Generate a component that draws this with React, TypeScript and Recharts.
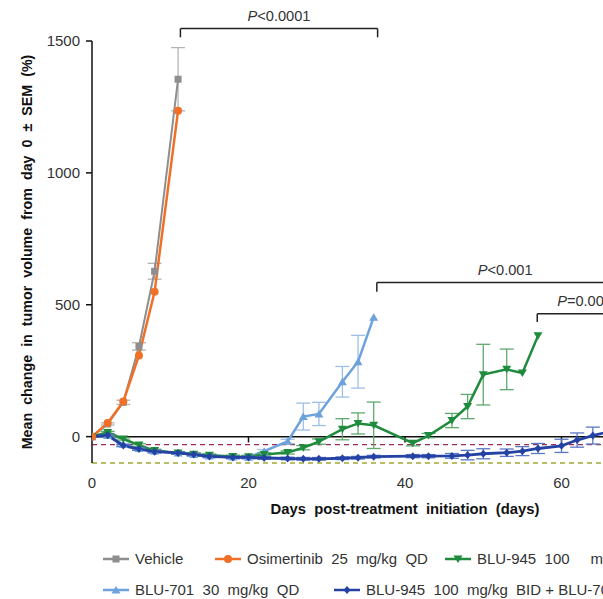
import React from 'react';
import { ComposedChart, Line, XAxis, YAxis, ReferenceLine, ErrorBar, Label } from 'recharts';

// days, mean % change and SEM
const vehicleDays = [0, 2, 4, 6, 8, 11];
const vehicleMean = [0, 48, 130, 342, 627, 1355];
const vehicleSem = [0, 4, 8, 14, 30, 120];

const osiDays = [0, 2, 4, 6, 8, 11];
const osiMean = [0, 52, 133, 308, 549, 1236];
const osiSem = [0, 0, 0, 0, 0, 0];

const blu945Days = [0, 2, 4, 6, 8, 11, 13, 15, 18, 20, 22, 25, 27, 29, 32, 34, 36, 41, 43, 46, 48, 50, 53, 55, 57];
const blu945Mean = [0, 16, -9, -32, -53, -62, -67, -71, -75, -76, -68, -60, -42, -19, 28, 50, 43, -25, 4, 61, 114, 235, 255, 241, 382];
const blu945Sem = [0, 4, 4, 5, 5, 5, 5, 5, 5, 5, 6, 6, 8, 10, 40, 40, 88, 10, 8, 27, 46, 115, 77, 0, 0];

const blu701Days = [0, 2, 4, 6, 8, 11, 13, 15, 18, 20, 22, 25, 27, 29, 32, 34, 36];
const blu701Mean = [0, 4, -30, -45, -55, -62, -68, -73, -77, -78, -55, -18, 76, 86, 208, 284, 453];
const blu701Sem = [0, 3, 4, 5, 5, 5, 5, 5, 5, 5, 6, 8, 51, 44, 58, 100, 0];

const comboDays = [0, 2, 4, 6, 8, 11, 13, 15, 18, 20, 22, 25, 27, 29, 32, 34, 36, 41, 43, 46, 48, 50, 53, 55, 57, 60, 62, 64, 67];
const comboMean = [0, 5, -34, -47, -57, -62, -68, -75, -79, -79, -81, -83, -84, -84, -82, -80, -76, -74, -74, -73, -70, -65, -61, -55, -45, -35, -13, 4, 25];
const comboSem = [0, 3, 4, 5, 5, 5, 5, 5, 5, 5, 5, 5, 5, 5, 5, 5, 5, 6, 6, 9, 18, 19, 14, 17, 19, 25, 27, 32, 35];

const seriesNames = [
  'Vehicle',
  'Osimertinib  25  mg/kg  QD',
  'BLU-945  100     mg/kg  BID',
  'BLU-701  30  mg/kg  QD',
  'BLU-945  100  mg/kg  BID + BLU-701  30  mg/kg  QD',
];

const xTicks = [0, 20, 40, 60, 80];
const yTicks = [0, 500, 1000, 1500];
const thresholds = [-30, -100];

// significance brackets (data coordinates)
const brackets = [
  { from: 11.3, to: 36.5, y: 1547, drop: 1514, text: '<0.0001' },
  { from: 36.4, to: 69.2, y: 584, drop: 549, text: '<0.001' },
  { from: 56.9, to: 69, y: 466, drop: 435, text: '=0.003' },
];

const toRows = (days: number[], mean: number[], sem: number[]) =>
  days.map((d, i) => ({ day: d, value: mean[i], sem: sem[i] }));

type Shape = 'square' | 'circle' | 'triDown' | 'triUp' | 'diamond';

const series: { key: string; name: string; color: string; err: string; shape: Shape; width: number; data: any[] }[] = [
  { key: 'vehicle', name: seriesNames[0], color: '#8e8e8e', err: '#b4b4b4', shape: 'square', width: 2, data: toRows(vehicleDays, vehicleMean, vehicleSem) },
  { key: 'blu701', name: seriesNames[3], color: '#6ea2dc', err: '#9dbfe6', shape: 'triUp', width: 2.5, data: toRows(blu701Days, blu701Mean, blu701Sem) },
  { key: 'blu945', name: seriesNames[2], color: '#1f8b3d', err: '#5ea96e', shape: 'triDown', width: 2.5, data: toRows(blu945Days, blu945Mean, blu945Sem) },
  { key: 'combo', name: seriesNames[4], color: '#2442a3', err: '#5a77c4', shape: 'diamond', width: 2.8, data: toRows(comboDays, comboMean, comboSem) },
  { key: 'osi', name: seriesNames[1], color: '#f07028', err: '#f5a070', shape: 'circle', width: 2.5, data: toRows(osiDays, osiMean, osiSem) },
];

const Marker = ({ cx, cy, shape, fill }: { cx: number; cy: number; shape: Shape; fill: string }) => {
  if (cx == null || cy == null) return null;
  switch (shape) {
    case 'square':
      return <rect x={cx - 3.5} y={cy - 3.5} width={7} height={7} fill={fill} />;
    case 'circle':
      return <circle cx={cx} cy={cy} r={4} fill={fill} />;
    case 'triDown':
      return <path d={`M${cx - 4.5},${cy - 3.5}L${cx + 4.5},${cy - 3.5}L${cx},${cy + 4}Z`} fill={fill} />;
    case 'triUp':
      return <path d={`M${cx - 4.5},${cy + 3.5}L${cx + 4.5},${cy + 3.5}L${cx},${cy - 4}Z`} fill={fill} />;
    default:
      return <path d={`M${cx},${cy - 4}L${cx + 3.5},${cy}L${cx},${cy + 4}L${cx - 3.5},${cy}Z`} fill={fill} />;
  }
};

const font = '"Liberation Sans", Arial, sans-serif';

const YLabel = (props: any) => {
  const vb = props.viewBox || {};
  const x = vb.x + 27;
  const y = vb.y + vb.height / 2;
  return (
    <text x={x} y={y} transform={`rotate(-90 ${x} ${y})`} textAnchor="middle" dominantBaseline="central"
      fontSize={14.3} fontWeight="bold" fill="#111" style={{ whiteSpace: 'pre' }}>
      {'Mean  change  in  tumor  volume  from  day  0  ±  SEM  (%)'}
    </text>
  );
};

const XLabel = (props: any) => {
  const vb = props.viewBox || {};
  return (
    <text x={vb.x + vb.width / 2} y={vb.y + 46} textAnchor="middle" dominantBaseline="central"
      fontSize={14.8} fontWeight="bold" fill="#111" style={{ whiteSpace: 'pre' }}>
      {'Days  post-treatment  initiation  (days)'}
    </text>
  );
};

const PLabel = ({ viewBox, text }: any) => {
  if (!viewBox) return null;
  return (
    <text x={viewBox.x + viewBox.width / 2} y={viewBox.y - 8} textAnchor="middle" fontSize={14.6} fill="#333">
      <tspan fontStyle="italic">P</tspan>
      {text}
    </text>
  );
};

const LegendIcon = ({ color, shape }: { color: string; shape: Shape }) => (
  <svg width={30} height={14} style={{ display: 'inline-block', verticalAlign: 'middle', marginRight: 4 }}>
    <line x1={2} y1={7} x2={28} y2={7} stroke={color} strokeWidth={2.5} />
    <Marker cx={15} cy={7} shape={shape} fill={color} />
  </svg>
);

const legendLayout = [
  { key: 'vehicle', left: 101, top: 550 },
  { key: 'osi', left: 213, top: 550 },
  { key: 'blu945', left: 443, top: 550 },
  { key: 'blu701', left: 101, top: 581 },
  { key: 'combo', left: 332, top: 581 },
];

export default function App() {
  return (
    <div style={{ position: 'fixed', left: 0, top: 0, width: 603, height: 599, overflow: 'hidden', background: '#fff', fontFamily: font }}>
      <ComposedChart width={730} height={523} margin={{ top: 41, right: 12, bottom: 0, left: 0 }} style={{ fontFamily: font }}>
        <XAxis type="number" dataKey="day" domain={[0, 80]} ticks={xTicks} axisLine={false} tickLine={false}
          tickSize={6} tickMargin={8} height={60} tick={{ fontSize: 15, fill: '#333' }} allowDataOverflow>
          <Label content={<XLabel />} />
        </XAxis>
        <YAxis type="number" domain={[-100, 1500]} ticks={yTicks} width={92} allowDataOverflow
          axisLine={{ stroke: '#111', strokeWidth: 1.5 }} tickLine={{ stroke: '#111', strokeWidth: 1.5 }}
          tickSize={6} tickMargin={6} tick={{ fontSize: 15, fill: '#333' }}>
          <Label content={<YLabel />} />
        </YAxis>
        <ReferenceLine y={thresholds[0]} stroke="#9b2d50" strokeWidth={1.3} strokeDasharray="5 4" />
        <ReferenceLine y={thresholds[1]} stroke="#a5a835" strokeWidth={1.5} strokeDasharray="5 4" />
        <ReferenceLine y={0} stroke="#111" strokeWidth={1.5} />
        {xTicks.slice(1).map((t) => (
          <ReferenceLine key={`xt${t}`} segment={[{ x: t, y: 0 }, { x: t, y: -22 }]} stroke="#111" strokeWidth={1.5} ifOverflow="visible" />
        ))}
        {brackets.map((b, i) => (
          <ReferenceLine key={`bh${i}`} segment={[{ x: b.from, y: b.y }, { x: b.to, y: b.y }]} stroke="#222" strokeWidth={1.5}
            ifOverflow="visible" label={<PLabel text={b.text} />} />
        ))}
        {brackets.map((b, i) => (
          <ReferenceLine key={`bl${i}`} segment={[{ x: b.from, y: b.y }, { x: b.from, y: b.drop }]} stroke="#222" strokeWidth={1.5} ifOverflow="visible" />
        ))}
        {brackets.map((b, i) => (
          <ReferenceLine key={`br${i}`} segment={[{ x: b.to, y: b.y }, { x: b.to, y: b.drop }]} stroke="#222" strokeWidth={1.5} ifOverflow="visible" />
        ))}
        {series.map((s) => (
          <Line key={s.key} data={s.data} dataKey="value" name={s.name} stroke={s.color} strokeWidth={s.width}
            isAnimationActive={false} legendType="none"
            dot={(p: any) => <Marker key={`${s.key}-${p.index}`} cx={p.cx} cy={p.cy} shape={s.shape} fill={s.color} />}
            activeDot={false}>
            <ErrorBar dataKey="sem" direction="y" width={7} stroke={s.err} strokeWidth={1.3} isAnimationActive={false} />
          </Line>
        ))}
      </ComposedChart>
      {legendLayout.map((l) => {
        const s = series.find((x) => x.key === l.key)!;
        return (
          <div key={l.key} style={{ position: 'absolute', left: l.left, top: l.top, fontSize: 15, color: '#333', whiteSpace: 'pre', lineHeight: '16px' }}>
            <LegendIcon color={s.color} shape={s.shape} />
            <span style={{ verticalAlign: 'middle' }}>{s.name}</span>
          </div>
        );
      })}
    </div>
  );
}
